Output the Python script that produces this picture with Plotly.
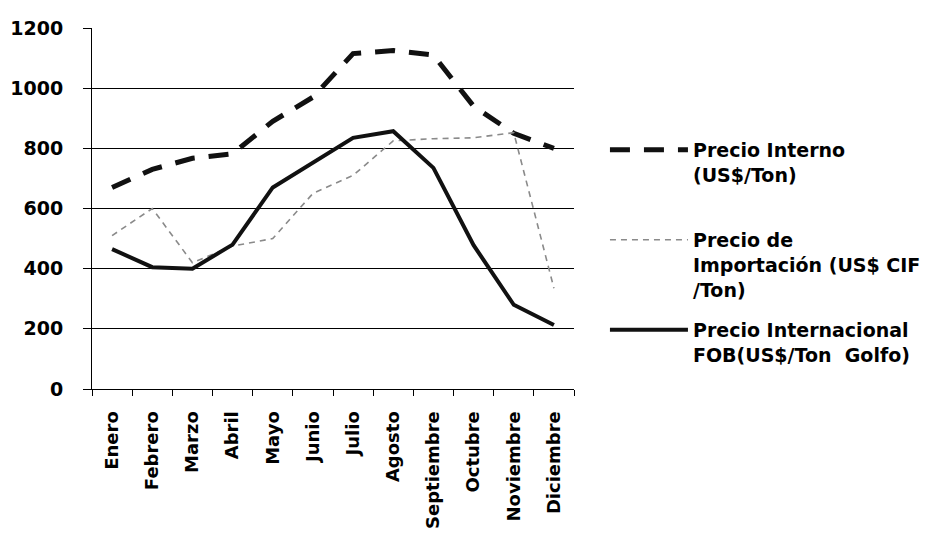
import plotly.graph_objects as go

meses = ["Enero", "Febrero", "Marzo", "Abril", "Mayo", "Junio", "Julio",
         "Agosto", "Septiembre", "Octubre", "Noviembre", "Diciembre"]

precio_interno = [670, 730, 767, 782, 890, 970, 1115, 1125, 1110, 940, 850, 800]
precio_importacion = [510, 600, 420, 475, 500, 650, 710, 825, 832, 835, 852, 335]
precio_internacional = [465, 405, 400, 480, 670, 752, 835, 857, 735, 478, 280, 213]

nombres = [
    "Precio Interno<br>(US$/Ton)<br> ",
    "Precio de<br>Importación (US$ CIF<br>/Ton)",
    "Precio Internacional<br>FOB(US$/Ton  Golfo)",
]

FONT = "DejaVu Sans"

fig = go.Figure()
fig.add_trace(go.Scatter(
    x=meses, y=precio_interno, mode="lines", name=nombres[0], legendgroup="a",
    line=dict(color="#111111", width=5, dash="20px,14px"),
))
fig.add_trace(go.Scatter(
    x=meses, y=precio_importacion, mode="lines", name=nombres[1], legendgroup="b",
    line=dict(color="#8a8a8a", width=1.6, dash="6px,5px"),
))
fig.add_trace(go.Scatter(
    x=meses, y=precio_internacional, mode="lines", name=nombres[2], legendgroup="c",
    line=dict(color="#111111", width=4),
))

fig.update_layout(
    width=925, height=536,
    margin=dict(l=92, r=351, t=28, b=147),
    paper_bgcolor="white", plot_bgcolor="white",
    font=dict(family=FONT, color="black"),
    showlegend=True,
    legend=dict(
        xref="container", yref="container",
        x=0.654, y=0.756, xanchor="left", yanchor="top",
        font=dict(family=FONT, size=19, color="black", weight="bold"),
        valign="top", traceorder="grouped", tracegroupgap=13,
        itemwidth=78, bgcolor="rgba(0,0,0,0)",
    ),
)
fig.update_xaxes(
    type="category", range=[-0.5, 11.5], automargin=False,
    tickson="boundaries", ticks="outside", ticklen=6, tickcolor="black",
    showline=True, linecolor="black", linewidth=1,
    showgrid=False, tickangle=-90, ticklabelstandoff=14,
    tickfont=dict(family=FONT, size=18, color="black", weight="bold"),
)
fig.update_yaxes(
    range=[0, 1200], dtick=200, tick0=0, automargin=False,
    ticks="outside", ticklen=8, tickcolor="black",
    showline=True, linecolor="black", linewidth=1,
    showgrid=True, gridcolor="black", gridwidth=1, zeroline=False,
    ticklabelstandoff=16,
    tickfont=dict(family=FONT, size=19, color="black", weight="bold"),
)

fig.write_html("out.html")
